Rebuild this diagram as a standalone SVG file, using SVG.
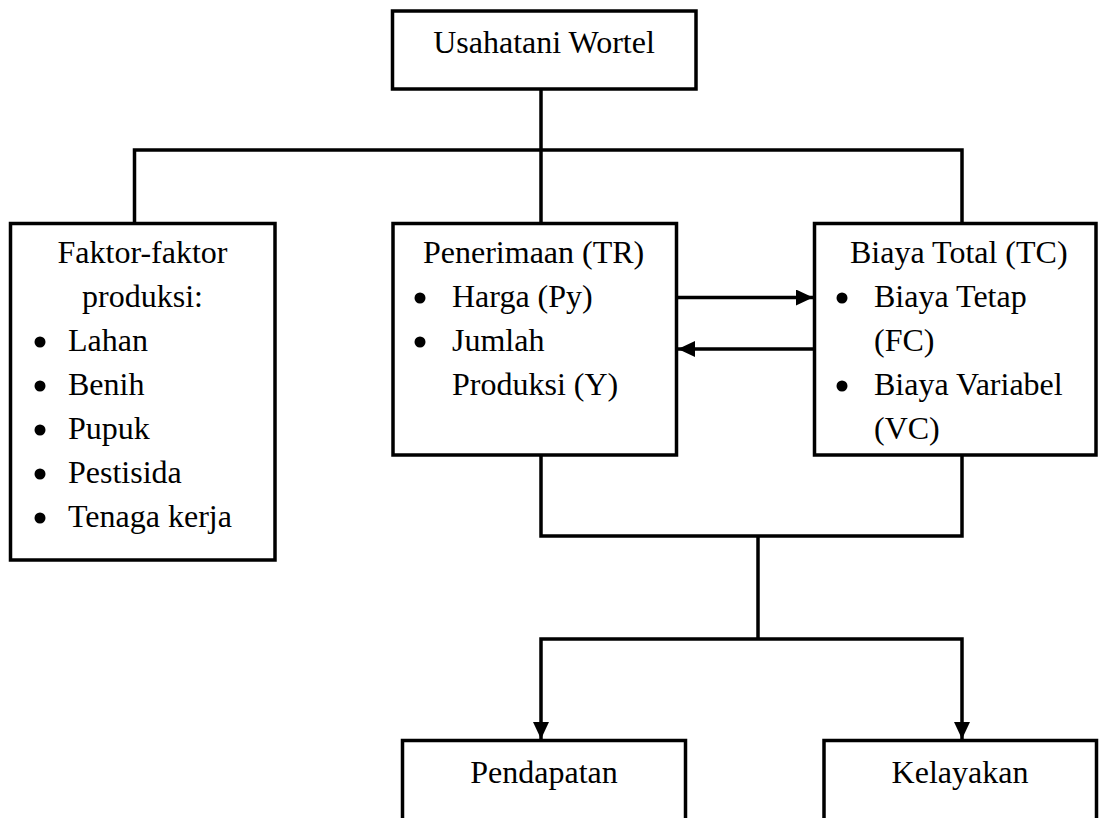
<svg xmlns="http://www.w3.org/2000/svg" width="1100" height="818" viewBox="0 0 1100 818">
<style>
.box{fill:#fff;stroke:#000;stroke-width:3.5}
.t{font-family:"Liberation Serif","Times New Roman",serif;font-size:32px;fill:#000}
.c{text-anchor:middle}
.ln{fill:none;stroke:#000;stroke-width:3.5}
.b{fill:#000}
</style>
<defs>
<marker id="ah" markerUnits="userSpaceOnUse" markerWidth="17" markerHeight="16" refX="17" refY="8" orient="auto">
<path d="M0,0 L17,8 L0,16 z" fill="#000"/>
</marker>
</defs>
<g id="connectors">
<path class="ln" d="M541,89 V223"/>
<path class="ln" d="M134.5,223 V150 H962 V223"/>
<path class="ln" d="M676.5,297.5 H813" marker-end="url(#ah)"/>
<path class="ln" d="M814,349 H678" marker-end="url(#ah)"/>
<path class="ln" d="M541,455 V536 H962 V455"/>
<path class="ln" d="M758,536 V639"/>
<path class="ln" d="M758,639 H541 V739" marker-end="url(#ah)"/>
<path class="ln" d="M758,639 H962 V739" marker-end="url(#ah)"/>
</g>
<g id="usahatani">
<rect class="box" x="392.5" y="11" width="303.5" height="78"/>
<text class="t c" x="544" y="53">Usahatani Wortel</text>
</g>
<g id="faktor">
<rect class="box" x="10.5" y="223.5" width="264.5" height="336.5"/>
<text class="t c" x="142.5" y="263">Faktor-faktor</text>
<text class="t c" x="142.5" y="307">produksi:</text>
<circle class="b" cx="40" cy="342" r="5.5"/>
<text class="t" x="68" y="351">Lahan</text>
<circle class="b" cx="40" cy="386" r="5.5"/>
<text class="t" x="68" y="395">Benih</text>
<circle class="b" cx="40" cy="430" r="5.5"/>
<text class="t" x="68" y="439">Pupuk</text>
<circle class="b" cx="40" cy="474" r="5.5"/>
<text class="t" x="68" y="483">Pestisida</text>
<circle class="b" cx="40" cy="518" r="5.5"/>
<text class="t" x="68" y="527">Tenaga kerja</text>
</g>
<g id="penerimaan">
<rect class="box" x="393" y="223.5" width="283.5" height="231.5"/>
<text class="t" x="423" y="263">Penerimaan (TR)</text>
<circle class="b" cx="420" cy="298" r="5.5"/>
<text class="t" x="452" y="307">Harga (Py)</text>
<circle class="b" cx="420" cy="342" r="5.5"/>
<text class="t" x="452" y="351">Jumlah</text>
<text class="t" x="452" y="395">Produksi (Y)</text>
</g>
<g id="biaya">
<rect class="box" x="814.5" y="223.5" width="281.5" height="231.5"/>
<text class="t" x="850" y="263">Biaya Total (TC)</text>
<circle class="b" cx="842" cy="298" r="5.5"/>
<text class="t" x="874" y="307">Biaya Tetap</text>
<text class="t" x="874" y="351">(FC)</text>
<circle class="b" cx="842" cy="386" r="5.5"/>
<text class="t" x="874" y="395">Biaya Variabel</text>
<text class="t" x="874" y="439">(VC)</text>
</g>
<g id="pendapatan">
<rect class="box" x="402.5" y="740.5" width="283" height="100"/>
<text class="t c" x="544" y="783">Pendapatan</text>
</g>
<g id="kelayakan">
<rect class="box" x="824" y="740.5" width="272.5" height="100"/>
<text class="t c" x="960" y="783">Kelayakan</text>
</g>
</svg>
